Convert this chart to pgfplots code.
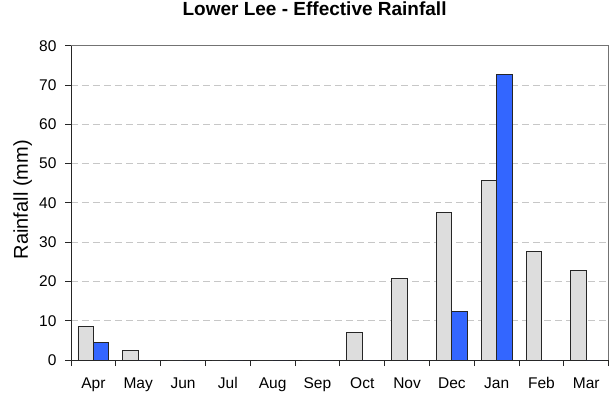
\documentclass[border=0pt]{standalone}
\usepackage{pgfplots}
\pgfplotsset{compat=1.18}
\usepackage{fontspec}
\setmainfont{Liberation Sans}
\definecolor{barblue}{HTML}{3366FF}
\definecolor{bargray}{HTML}{DDDDDD}
\begin{document}
\begin{tikzpicture}
\path[use as bounding box] (-71pt,-39pt) rectangle (539pt,360pt);
\begin{axis}[
  at={(0,0)}, anchor=south west,
  scale only axis, width=537.7pt, height=314.3pt,
  xmin=-0.5, xmax=11.5, ymin=0, ymax=80,
  axis x line=bottom, axis y line=left,
  axis line style={-, line width=0.9pt, black!85},
  xtick={0,...,11},
  xticklabels={Apr,May,Jun,Jul,Aug,Sep,Oct,Nov,Dec,Jan,Feb,Mar},
  minor xtick={-0.5,0.5,...,11.5},
  major x tick style={draw=none},
  minor x tick style={black!85, line width=0.9pt},
  minor tick length=6pt,
  ytick={0,10,...,80},
  y tick style={black!85, line width=0.9pt},
  major tick length=6pt,
  tick align=outside,
  ymajorgrids, major grid style={dash pattern=on 7pt off 4pt, black!22, line width=0.9pt},
  tick label style={font=\fontsize{15.5}{18}\selectfont},
  xticklabel style={anchor=base, yshift=-22pt},
  yticklabel style={xshift=-5pt},
  /pgf/number format/assume math mode=true,
  ylabel={Rainfall (mm)},
  ylabel style={font=\fontsize{20}{24}\selectfont, at={(-43pt,0.51)}, anchor=base, rotate=0},
  title={\textbf{Lower Lee - Effective Rainfall}},
  title style={font=\fontsize{19}{23}\selectfont, at={(0.453,1)}, anchor=base, yshift=24.7pt},
  clip=false,
]
\draw[black!55, line width=1.2pt] (rel axis cs:0,1) -- (rel axis cs:1,1) -- (rel axis cs:1,0);
\addplot[ybar, bar width=0.344, bar shift=-0.172, fill=bargray, draw=black!85, line width=0.8pt]
coordinates {(0,8.6) (1,2.5) (2,0) (3,0) (4,0) (5,0) (6,7.1) (7,20.8) (8,37.5) (9,45.6) (10,27.6) (11,22.8)};
\addplot[ybar, bar width=0.344, bar shift=0.172, fill=barblue, draw=black!85, line width=0.8pt]
coordinates {(0,4.5) (1,0) (2,0) (3,0) (4,0) (5,0) (6,0) (7,0) (8,12.4) (9,72.6) (10,0) (11,0)};
\end{axis}
\end{tikzpicture}
\end{document}
